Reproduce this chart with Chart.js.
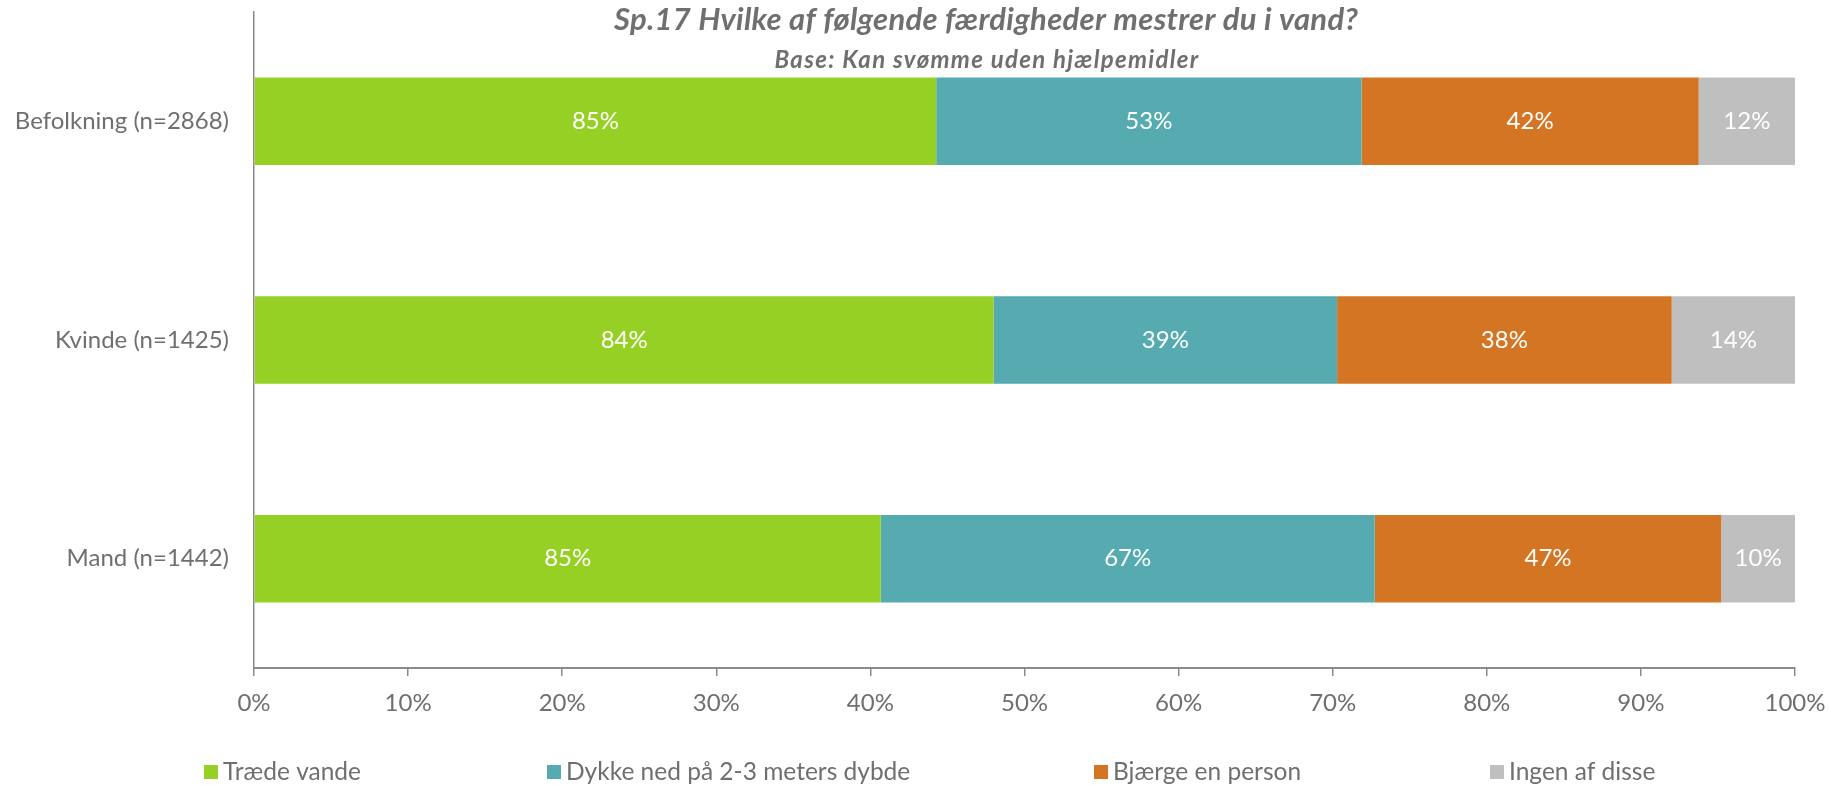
<!DOCTYPE html>
<html>
<head>
<meta charset="utf-8">
<script src="https://cdn.jsdelivr.net/npm/chart.js@4/dist/chart.umd.min.js"></script>
<style>
  html, body { margin: 0; padding: 0; background: #fff; }
  #wrap { width: 1829px; height: 785px; }
</style>
</head>
<body>
<div id="wrap"><canvas id="skillsChart" width="1829" height="785"></canvas></div>
<script>
const categories = ['Befolkning (n=2868)', 'Kvinde (n=1425)', 'Mand (n=1442)'];
const seriesNames = ['Træde vande', 'Dykke ned på 2-3 meters dybde', 'Bjærge en person', 'Ingen af disse'];
const traedeVande = [85, 84, 85];
const dykkeNed = [53, 39, 67];
const bjaergePerson = [42, 38, 47];
const ingenAfDisse = [12, 14, 10];
const xTicks = ['0%', '10%', '20%', '30%', '40%', '50%', '60%', '70%', '80%', '90%', '100%'];

const colors = ['#97d024', '#55abb0', '#d47524', '#bfbfbf'];
const fontFamily = 'Lato, "Open Sans", sans-serif';
const textGrey = '#6f6f6f';
const axisGrey = '#8a8a8a';

const rawSeries = [traedeVande, dykkeNed, bjaergePerson, ingenAfDisse];
// 100% stacked: each bar is scaled by the row total, labels show the raw value
const totals = categories.map((c, i) => rawSeries.reduce((s, arr) => s + arr[i], 0));

const datasets = rawSeries.map((arr, k) => ({
  label: seriesNames[k],
  data: arr.map((v, i) => v / totals[i] * 100),
  raw: arr,
  backgroundColor: colors[k],
  borderWidth: 0,
  barPercentage: 0.4,
  categoryPercentage: 1.0,
}));

// white value labels in the middle of every segment
const valueLabels = {
  id: 'valueLabels',
  afterDatasetsDraw(chart) {
    const ctx = chart.ctx;
    ctx.save();
    ctx.fillStyle = '#ffffff';
    ctx.font = '24px ' + fontFamily;
    ctx.textAlign = 'center';
    ctx.textBaseline = 'middle';
    chart.data.datasets.forEach((ds, k) => {
      chart.getDatasetMeta(k).data.forEach((bar, i) => {
        const cx = (bar.x + bar.base) / 2;
        ctx.fillText(ds.raw[i] + '%', cx, bar.y);
      });
    });
    ctx.restore();
  }
};

// titles and legend placed like the original
const decorations = {
  id: 'decorations',
  afterDraw(chart) {
    const ctx = chart.ctx;
    ctx.save();
    ctx.fillStyle = textGrey;
    ctx.textAlign = 'center';
    ctx.textBaseline = 'middle';
    ctx.letterSpacing = '0.3px';
    ctx.font = 'italic bold 31px ' + fontFamily;
    ctx.fillText('Sp.17 Hvilke af følgende færdigheder mestrer du i vand?', 986, 20);
    ctx.letterSpacing = '1.3px';
    ctx.font = 'italic bold 24px ' + fontFamily;
    ctx.fillText('Base: Kan svømme uden hjælpemidler', 987, 60);
    ctx.letterSpacing = '0px';

    const legendX = [204, 547, 1094, 1490];
    const legendY = 772;
    ctx.textAlign = 'left';
    ctx.font = '24.5px ' + fontFamily;
    seriesNames.forEach((name, k) => {
      ctx.fillStyle = colors[k];
      ctx.fillRect(legendX[k], legendY - 7, 14, 14);
      ctx.fillStyle = textGrey;
      ctx.fillText(name, legendX[k] + 19, legendY);
    });
    ctx.restore();
  }
};

new Chart(document.getElementById('skillsChart').getContext('2d'), {
  type: 'bar',
  data: { labels: categories, datasets: datasets },
  options: {
    indexAxis: 'y',
    responsive: false,
    animation: false,
    layout: { padding: { top: 12, right: 34, left: 0, bottom: 0 } },
    plugins: {
      legend: { display: false },
      title: { display: false },
      tooltip: { enabled: false },
    },
    scales: {
      x: {
        stacked: true,
        min: 0,
        max: 100,
        afterFit(scale) {
          scale.height = 117;
          scale.paddingLeft = 0;
          scale.paddingRight = 0;
        },
        afterBuildTicks(scale) {
          scale.ticks = xTicks.map((t, i) => ({ value: i * 10 }));
        },
        ticks: {
          callback: (v, i) => xTicks[i],
          color: textGrey,
          font: { family: fontFamily, size: 24 },
          padding: 13,
          maxRotation: 0,
        },
        grid: {
          display: true,
          drawOnChartArea: false,
          drawTicks: true,
          tickLength: 8,
          color: axisGrey,
          lineWidth: 1.5,
        },
        border: { display: true, color: axisGrey, width: 2 },
      },
      y: {
        stacked: true,
        afterFit(scale) {
          scale.width = 254;
          scale.paddingTop = 0;
          scale.paddingBottom = 0;
        },
        ticks: {
          color: textGrey,
          font: { family: fontFamily, size: 24 },
          padding: 17,
        },
        grid: { display: false },
        border: { display: true, color: axisGrey, width: 1.5 },
      },
    },
  },
  plugins: [valueLabels, decorations],
});
</script>
</body>
</html>
